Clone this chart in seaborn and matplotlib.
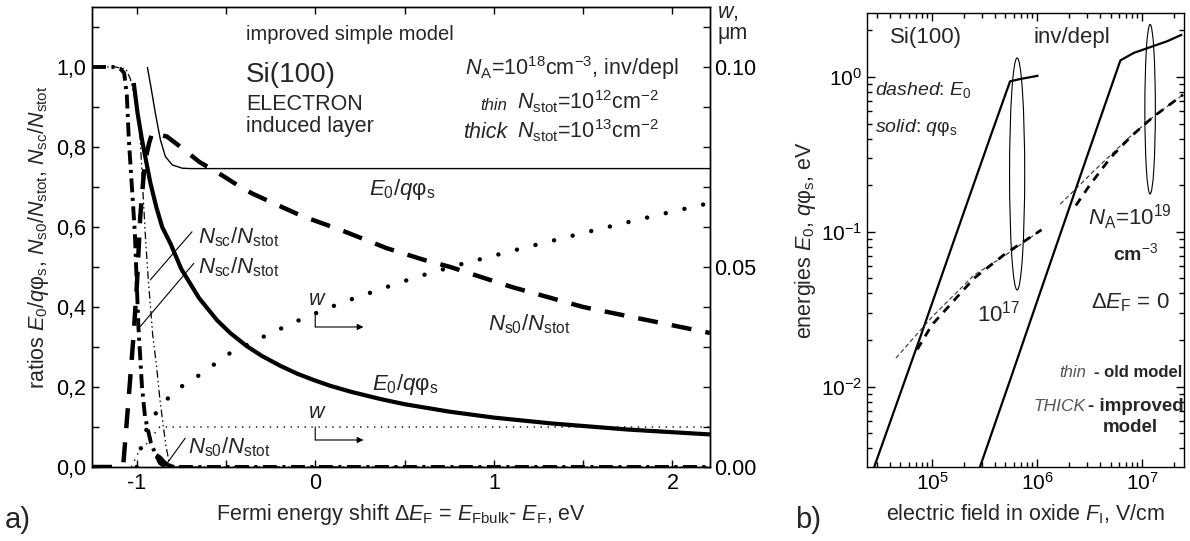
import matplotlib
matplotlib.use("Agg")
import matplotlib.pyplot as plt
import matplotlib.ticker as mticker
from matplotlib.patches import Ellipse
import numpy as np
import seaborn as sns

# ---------------- panel a: ratios vs Fermi energy shift (eV) ----------------
# thin solid: E0/q*phi_s, Nstot = 1e12
e0_thin_x = [-0.94, -0.92, -0.895, -0.867, -0.839, -0.80, -0.745, -0.70, 2.21]
e0_thin_y = [1.00, 0.95, 0.884, 0.818, 0.776, 0.755, 0.747, 0.746, 0.746]

# thick solid: E0/q*phi_s, Nstot = 1e13
e0_thick_x = [-1.016, -0.995, -0.97, -0.945, -0.923, -0.89, -0.857, -0.81, -0.75, -0.65,
              -0.55, -0.476, -0.383, -0.30, -0.196, -0.10, 0.0, 0.084, 0.20, 0.364,
              0.50, 0.756, 1.0, 1.32, 1.75, 2.21]
e0_thick_y = [0.96, 0.885, 0.818, 0.76, 0.71, 0.65, 0.60, 0.558, 0.495, 0.422,
              0.367, 0.335, 0.302, 0.278, 0.253, 0.233, 0.216, 0.203, 0.188, 0.170,
              0.157, 0.138, 0.1235, 0.109, 0.0936, 0.0814]

# thick dashed: Ns0/Nstot, Nstot = 1e13
ns0_thick_x = [-1.25, -1.09, -1.074, -1.045, -1.017, -0.998, -0.98, -0.955, -0.93, -0.913,
               -0.83, -0.745, -0.65, -0.51, -0.42, -0.35, -0.078, 0.14, 0.40, 0.607,
               0.756, 1.1, 1.5, 2.21]
ns0_thick_y = [0.0, 0.0, 0.01, 0.17, 0.33, 0.46, 0.625, 0.76, 0.81, 0.835,
               0.826, 0.797, 0.763, 0.726, 0.70, 0.683, 0.628, 0.593, 0.547, 0.518,
               0.50, 0.45, 0.40, 0.335]

# small thick tail: Ns0/Nstot, Nstot = 1e12
ns0_thin_x = [-0.89, -0.87, -0.85, -0.83, -0.81, -0.79]
ns0_thin_y = [0.03, 0.024, 0.014, 0.006, 0.002, 0.0]

# thick dash-dot: Nsc/Nstot, Nstot = 1e13
nsc_thick_x = [-1.25, -1.12, -1.09, -1.07, -1.055, -1.044, -1.025, -1.01, -0.99, -0.97,
               -0.953, -0.92, -0.897, -0.87, -0.84, 2.21]
nsc_thick_y = [1.0, 1.0, 0.995, 0.985, 0.93, 0.82, 0.69, 0.585, 0.35, 0.20,
               0.125, 0.06, 0.035, 0.01, 0.0, 0.0]

# thin dash-dot-dot: Nsc/Nstot, Nstot = 1e12
nsc_thin_x = [-1.25, -1.12, -1.06, -1.035, -1.0, -0.98, -0.965, -0.95, -0.935, -0.91,
              -0.888, -0.87, -0.85, -0.835, -0.82, -0.80, 2.21]
nsc_thin_y = [1.0, 1.0, 0.995, 0.97, 0.90, 0.82, 0.69, 0.57, 0.47, 0.33,
              0.25, 0.17, 0.10, 0.05, 0.017, 0.0, 0.0]

# dotted: depletion width w (um), right axis
w_thick_x = [-1.0, -0.97, -0.94, -0.90, -0.865, -0.79, -0.68, -0.476, -0.27, -0.066,
             0.15, 0.355, 0.56, 0.8, 1.1, 1.5, 1.9, 2.21]
w_thick = [0.0, 0.006, 0.010, 0.013, 0.015, 0.019, 0.022, 0.0285, 0.033, 0.0372,
           0.0411, 0.0443, 0.0474, 0.0505, 0.054, 0.0585, 0.0628, 0.066]
w_thin_x = [-1.03, -0.98, -0.95, -0.92, -0.89, -0.87, 2.21]
w_thin = [0.0, 0.0045, 0.0055, 0.007, 0.009, 0.010, 0.010]

# ---------------- panel b: energies vs oxide field (V/cm) ----------------
f17_solid = [2.82e4, 8.0e4, 1.7e5, 3.6e5, 5.53e5, 6.9e5, 1.03e6]
e17_solid = [0.00303, 0.0223, 0.0968, 0.413, 0.937, 0.970, 1.02]
f19_solid = [2.86e5, 5.5e5, 1.0e6, 3.0e6, 6.2e6, 8.3e6, 1.72e7, 2.4e7]
e19_solid = [0.00303, 0.0109, 0.0356, 0.310, 1.28, 1.43, 1.70, 1.88]

f17_dash_thin = [4.54e4, 1.0e5, 2.51e5, 5.01e5, 1.1e6]
e17_dash_thin = [0.0153, 0.0282, 0.0525, 0.0708, 0.103]
f17_dash_thick = [7.24e4, 1.0e5, 2.51e5, 5.01e5, 1.1e6]
e17_dash_thick = [0.0174, 0.0251, 0.0501, 0.0724, 0.103]

f19_dash_thin = [1.66e6, 3.55e6, 7.52e6, 1.26e7, 2.45e7]
e19_dash_thin = [0.151, 0.251, 0.407, 0.550, 0.769]
f19_dash_thick = [2.34e6, 3.16e6, 5.01e6, 7.94e6, 1.26e7, 2.45e7]
e19_dash_thick = [0.148, 0.200, 0.302, 0.417, 0.550, 0.769]

# ellipses marking the two doping levels (log10 centre, half sizes in decades)
ell17 = (5.81, -0.626, 0.072, 0.749)
ell19 = (7.075, -0.208, 0.05, 0.547)

sns.set_style("ticks")
plt.rcParams.update({
    "font.family": ["Liberation Sans", "DejaVu Sans"],
    "mathtext.fontset": "custom",
    "mathtext.rm": "Liberation Sans",
    "mathtext.it": "Liberation Sans:italic",
    "mathtext.bf": "Liberation Sans:bold",
    "axes.unicode_minus": False,
    "axes.linewidth": 1.0,
    "axes.edgecolor": "black",
    "xtick.color": "black",
    "ytick.color": "black",
})
FS = 15.5

fig = plt.figure(figsize=(11.9, 5.41), dpi=100)
ax = fig.add_axes([0.0773, 0.1368, 0.5193, 0.8503])
ax2 = ax.twinx()
axb = fig.add_axes([0.7286, 0.1368, 0.2664, 0.8392])


def line(a, x, y, lw, ls="-", color="black", cap="butt"):
    sns.lineplot(x=x, y=y, ax=a, color=color, lw=lw, linestyle=ls, sort=False,
                 estimator=None, legend=False, dash_capstyle=cap,
                 solid_capstyle="butt", solid_joinstyle="round")


# ---- panel a curves
line(ax, e0_thin_x, e0_thin_y, 1.0)
line(ax, e0_thick_x, e0_thick_y, 3.0)
line(ax, ns0_thick_x, ns0_thick_y, 3.2, (0, (4.5, 3.2)))
line(ax, ns0_thin_x, ns0_thin_y, 3.0)
line(ax, nsc_thick_x, nsc_thick_y, 2.8, (0, (3.6, 1.4, 0.8, 1.4)))
line(ax, nsc_thin_x, nsc_thin_y, 0.9, (0, (6, 2.5, 1.2, 2.5, 1.2, 2.5)))
line(ax2, w_thick_x, w_thick, 3.2, (0, (0.01, 4.3)), cap="round")
line(ax2, w_thin_x, w_thin, 1.0, (0, (1, 4)))

ax.set_xlim(-1.25, 2.21)
ax.set_ylim(0, 1.15)
ax2.set_ylim(0, 0.115)
ax.xaxis.set_major_locator(mticker.MultipleLocator(1))
ax.xaxis.set_minor_locator(mticker.MultipleLocator(0.5))
ax.yaxis.set_major_locator(mticker.MultipleLocator(0.2))
ax.yaxis.set_minor_locator(mticker.MultipleLocator(0.1))
ax.yaxis.set_major_formatter(mticker.FuncFormatter(lambda v, p: f"{v:.1f}".replace(".", ",")))
ax.xaxis.set_major_formatter(mticker.FuncFormatter(lambda v, p: f"{v:.0f}"))
ax2.yaxis.set_major_locator(mticker.MultipleLocator(0.05))
ax2.yaxis.set_minor_locator(mticker.MultipleLocator(0.01))
ax2.yaxis.set_major_formatter(mticker.FormatStrFormatter("%.2f"))
ax.tick_params(which="both", direction="in", top=True, right=False, length=5,
               width=1, labelsize=FS, pad=4)
ax2.tick_params(which="both", direction="in", length=5, width=1, labelsize=FS, pad=3)

ax.set_xlabel(r"Fermi energy shift Δ$E_{\rm F}$ = $E_{\rm Fbulk}$- $E_{\rm F}$, eV",
              fontsize=FS, labelpad=6)
ax.set_ylabel(r"ratios $E_0/q\mathrm{φ}_{\rm s}$, $N_{\rm s0}/N_{\rm stot}$, $N_{\rm sc}/N_{\rm stot}$",
              fontsize=FS, labelpad=4)
ax.text(1.012, 0.975, r"$w$,", transform=ax.transAxes, fontsize=FS, va="baseline")
ax.text(1.012, 0.93, "μm", transform=ax.transAxes, fontsize=FS, va="baseline")

# annotations panel a
ax.text(-0.39, 1.08, "improved simple model", fontsize=14.5, va="center")
ax.text(-0.39, 0.98, "Si(100)", fontsize=20, va="center")
ax.text(-0.385, 0.905, "ELECTRON", fontsize=FS, va="center")
ax.text(-0.385, 0.85, "induced layer", fontsize=FS, va="center")
ax.text(2.034, 0.98, r"$N_{\rm A}$=10$^{18}$cm$^{-3}$, inv/depl", fontsize=FS,
        ha="right", va="baseline")
ax.text(1.075, 0.893, "thin", fontsize=12, style="italic", ha="right", va="baseline")
ax.text(1.13, 0.893, r"$N_{\rm stot}$=10$^{12}$cm$^{-2}$", fontsize=FS, va="baseline")
ax.text(1.075, 0.822, "thick", fontsize=FS, style="italic", ha="right", va="baseline")
ax.text(1.13, 0.822, r"$N_{\rm stot}$=10$^{13}$cm$^{-2}$", fontsize=FS, va="baseline")
ax.text(0.30, 0.68, r"$E_0/q\mathrm{φ}_{\rm s}$", fontsize=16, va="baseline")
ax.text(0.32, 0.1925, r"$E_0/q\mathrm{φ}_{\rm s}$", fontsize=16, va="baseline")
ax.text(0.97, 0.3425, r"$N_{\rm s0}/N_{\rm stot}$", fontsize=16, va="baseline")
ax.text(-0.655, 0.56, r"$N_{\rm sc}/N_{\rm stot}$", fontsize=16, va="baseline")
ax.text(-0.655, 0.485, r"$N_{\rm sc}/N_{\rm stot}$", fontsize=16, va="baseline")
ax.text(-0.71, 0.035, r"$N_{\rm s0}/N_{\rm stot}$", fontsize=16, va="baseline")
leader = dict(arrowstyle="-", lw=0.8, color="black", shrinkA=0, shrinkB=0)
ax.annotate("", xy=(-0.924, 0.4675), xytext=(-0.69, 0.588), arrowprops=leader)
ax.annotate("", xy=(-0.98, 0.351), xytext=(-0.68, 0.509), arrowprops=leader)
ax.annotate("", xy=(-0.83, 0.009), xytext=(-0.728, 0.072), arrowprops=leader)
arrow = dict(arrowstyle="-|>", lw=0.8, color="black", shrinkA=0, shrinkB=0,
             mutation_scale=9)
for yw_top, yw_arrow, yw_txt in [(0.385, 0.35, 0.405), (0.10, 0.0675, 0.1225)]:
    ax.text(-0.04, yw_txt, r"$w$", fontsize=FS, va="baseline")
    ax.annotate("", xy=(0, yw_arrow), xytext=(0, yw_top), arrowprops=leader)
    ax.annotate("", xy=(0.27, yw_arrow), xytext=(0, yw_arrow), arrowprops=arrow)

# ---- panel b curves
axb.set_xscale("log")
axb.set_yscale("log")
line(axb, f17_solid, e17_solid, 1.6)
line(axb, f19_solid, e19_solid, 1.6)
line(axb, f17_dash_thin, e17_dash_thin, 0.8, (0, (4, 2.5)), color="#333333")
line(axb, f17_dash_thick, e17_dash_thick, 2.0, (0, (3, 2.5)))
line(axb, f19_dash_thin, e19_dash_thin, 0.8, (0, (4, 2.5)), color="#333333")
line(axb, f19_dash_thick, e19_dash_thick, 2.0, (0, (3, 2.5)))
axb.set_xlim(2.41e4, 2.5e7)
axb.set_ylim(0.00303, 2.59)
for cx, cy, hw, hh in (ell17, ell19):
    axb.add_patch(Ellipse((cx, cy), 2 * hw, 2 * hh, fill=False, lw=0.8,
                          color="black", transform=axb.transLimits + axb.transAxes))
axb.xaxis.set_major_locator(mticker.LogLocator(base=10, numticks=10))
axb.xaxis.set_minor_locator(mticker.LogLocator(base=10, subs=np.arange(2, 10), numticks=20))
axb.yaxis.set_major_locator(mticker.LogLocator(base=10, numticks=10))
axb.yaxis.set_minor_locator(mticker.LogLocator(base=10, subs=np.arange(2, 10), numticks=20))
axb.xaxis.set_minor_formatter(mticker.NullFormatter())
axb.yaxis.set_minor_formatter(mticker.NullFormatter())
axb.tick_params(which="both", direction="in", top=True, right=True, width=1,
                labelsize=15)
axb.tick_params(which="major", length=6)
axb.tick_params(which="minor", length=3.5)
axb.set_xlabel(r"electric field in oxide $F_{\rm I}$, V/cm", fontsize=FS, labelpad=6)
axb.set_ylabel(r"energies $E_0$, $q\mathrm{φ}_{\rm s}$, eV", fontsize=FS, labelpad=2)

tb = axb.transAxes
axb.text(0.073, 0.945, "Si(100)", fontsize=16, va="center", transform=tb)
axb.text(0.524, 0.945, "inv/depl", fontsize=16, va="center", transform=tb)
axb.text(0.025, 0.83, r"$\mathit{dashed}$: $E_0$", fontsize=14, va="center", transform=tb)
axb.text(0.025, 0.747, r"$\mathit{solid}$: $q\mathrm{φ}_{\rm s}$", fontsize=14,
         va="center", transform=tb)
axb.text(0.697, 0.55, r"$N_{\rm A}$=10$^{19}$", fontsize=16, va="center", transform=tb)
axb.text(0.776, 0.472, r"cm$^{-3}$", fontsize=14, va="center", weight="bold", transform=tb)
axb.text(0.347, 0.339, r"10$^{17}$", fontsize=16, va="center", transform=tb)
axb.text(0.707, 0.361, r"Δ$E_{\rm F}$ = 0", fontsize=16, va="center", transform=tb)
axb.text(0.69, 0.209, "thin", fontsize=12, style="italic", color="#555555",
         ha="right", va="center", transform=tb)
axb.text(0.995, 0.209, "- old model", fontsize=12, weight="bold", ha="right",
         va="center", transform=tb)
axb.text(0.69, 0.134, "THICK", fontsize=12.5, style="italic", color="#555555",
         ha="right", va="center", transform=tb)
axb.text(0.998, 0.134, "- improved", fontsize=13.5, weight="bold", ha="right",
         va="center", transform=tb)
axb.text(0.83, 0.088, "model", fontsize=13.5, weight="bold", ha="center",
         va="center", transform=tb)

fig.text(0.004, 0.039, "a)", fontsize=21, va="center")
fig.text(0.668, 0.039, "b)", fontsize=21, va="center")

fig.savefig("out.png", dpi=100)
